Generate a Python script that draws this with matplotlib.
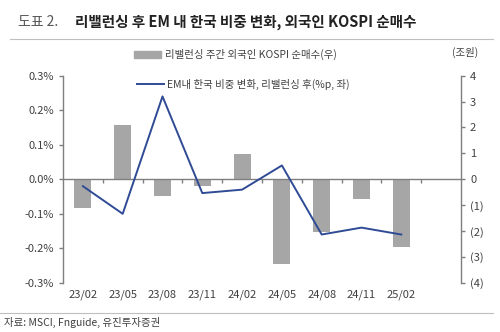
import numpy as np
import matplotlib.pyplot as plt
from matplotlib.patches import Patch
from matplotlib.lines import Line2D
from matplotlib.ticker import FuncFormatter, FixedLocator

plt.rcParams['font.family'] = ['Noto Sans CJK KR', 'DejaVu Sans']

# 리밸런싱 시점별 데이터
periods = ['23/02', '23/05', '23/08', '23/11', '24/02', '24/05', '24/08', '24/11', '25/02']
weight_chg = [-0.02, -0.10, 0.24, -0.04, -0.03, 0.04, -0.16, -0.14, -0.16]   # %p, 좌축
net_buy = [-1.11, 2.08, -0.66, -0.26, 0.97, -3.27, -2.03, -0.76, -2.61]      # 조원, 우축

bar_color = '#a6a6a6'
line_color = '#2f4b95'
axis_color = '#7f7f7f'
text_color = '#404040'

fig = plt.figure(figsize=(5.0, 3.32), dpi=100)
ax = fig.add_axes([0.126, 0.148, 0.796, 0.624])
ax2 = ax.twinx()

x = np.arange(len(periods))
ax2.bar(x, net_buy, width=0.43, color=bar_color, zorder=2)
ax.plot(x, weight_chg, color=line_color, lw=1.4, zorder=3)

# 선이 막대 위에 오도록
ax.set_zorder(ax2.get_zorder() + 1)
ax.patch.set_visible(False)

ax.set_xlim(-0.5, len(periods) + 0.5)
ax.set_ylim(-0.3, 0.3)
ax2.set_ylim(-4, 4)

ax.set_yticks(np.arange(-0.3, 0.31, 0.1))
ax.yaxis.set_major_formatter(FuncFormatter(lambda v, p: f'{v:.1f}%'))
ax2.set_yticks(np.arange(-4, 5, 1))
ax2.yaxis.set_major_formatter(FuncFormatter(lambda v, p: f'({abs(v):.0f})' if v < 0 else f'{v:.0f}'))

for a in (ax, ax2):
    a.spines['top'].set_visible(False)
    for s in a.spines.values():
        s.set_color(axis_color)
        s.set_linewidth(1.0)
    a.tick_params(axis='y', colors=axis_color, labelcolor=text_color, labelsize=8, length=3, width=1.0)

ax2.spines['left'].set_visible(False)
ax2.spines['bottom'].set_visible(False)
ax.spines['right'].set_visible(False)

# 0선에 구간 경계 눈금
ax.spines['bottom'].set_position(('data', 0))
ax.xaxis.set_major_locator(FixedLocator(np.arange(0.5, len(periods), 1.0)))
ax.tick_params(axis='x', colors=axis_color, length=3, width=1.0, labelbottom=False)

# 하단 기간 라벨
secx = ax.secondary_xaxis(0.0)
secx.set_xticks(x)
secx.set_xticklabels(periods)
secx.spines['bottom'].set_visible(False)
secx.tick_params(axis='x', length=0, labelsize=8, labelcolor=text_color, pad=5)

# 범례
fig.legend(handles=[Patch(color=bar_color)], labels=['리밸런싱 주간 외국인 KOSPI 순매수(우)'],
           loc='center left', bbox_to_anchor=(0.25, 0.835), frameon=False,
           fontsize=7.5, handlelength=2.6, handleheight=0.6, handletextpad=0.3,
           labelcolor=text_color)
fig.legend(handles=[Line2D([], [], color=line_color, lw=1.4)],
           labels=['EM내 한국 비중 변화, 리밸런싱 후(%p, 좌)'],
           loc='center left', bbox_to_anchor=(0.255, 0.747), frameon=False,
           fontsize=7.5, handlelength=2.6, handletextpad=0.3, labelcolor=text_color)

fig.text(0.957, 0.843, '(조원)', fontsize=7.5, color=text_color, ha='right', va='center')

# 제목과 구분선
fig.text(0.035, 0.935, '도표 2.', fontsize=10, color='#555555', va='center')
fig.text(0.15, 0.935, '리밸런싱 후 EM 내 한국 비중 변화, 외국인 KOSPI 순매수',
         fontsize=10.5, fontweight='bold', color='#222222', va='center')
fig.add_artist(Line2D([0.02, 0.985], [0.882, 0.882], color='#bfbfbf', lw=0.8))
fig.add_artist(Line2D([0.0, 0.985], [0.058, 0.058], color='#bfbfbf', lw=0.8))
fig.text(0.008, 0.03, '자료: MSCI, Fnguide, 유진투자증권', fontsize=7.5, color=text_color, va='center')

fig.savefig('out.png', dpi=100)
